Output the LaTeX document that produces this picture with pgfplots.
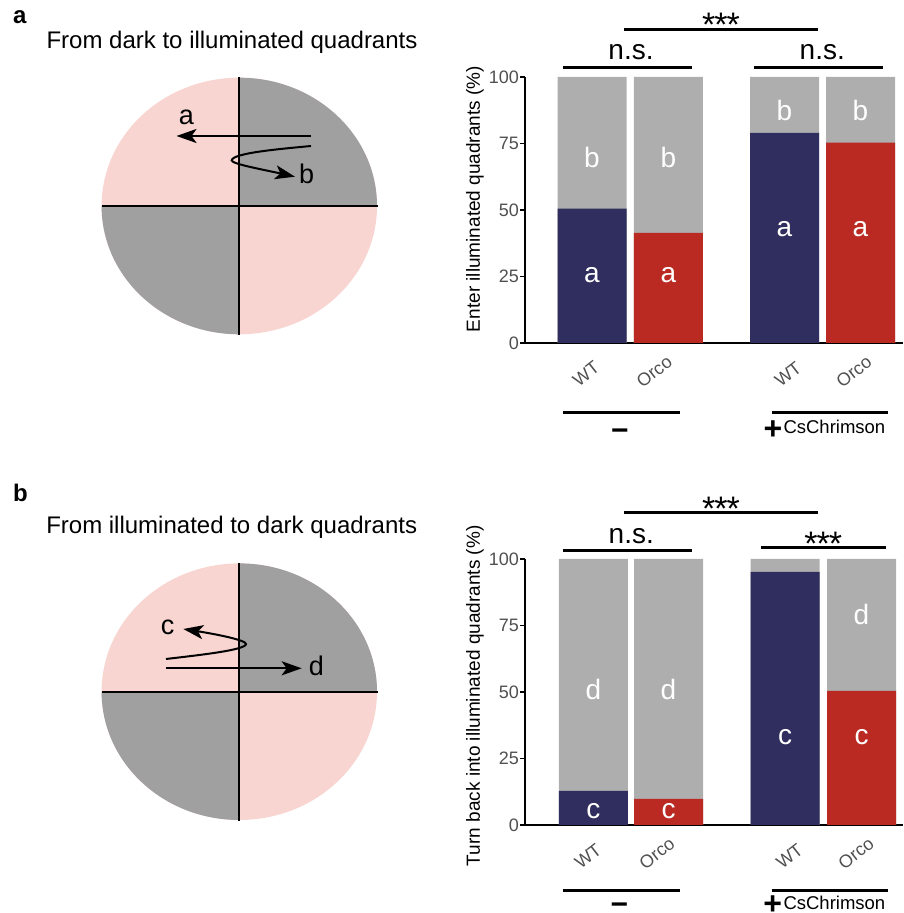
\documentclass[border=0pt]{standalone}
\usepackage{fontspec}
\setmainfont{Liberation Sans}
\usepackage{pgfplots}
\pgfplotsset{compat=1.18}
\usetikzlibrary{arrows.meta}
\definecolor{navy}{HTML}{2F2E5E}
\definecolor{bred}{HTML}{BA2A23}
\definecolor{bgray}{HTML}{AEAEAE}
\definecolor{dgray}{HTML}{A0A0A0}
\definecolor{qpink}{HTML}{F8D5D0}
\definecolor{tgray}{HTML}{505050}
\newcommand{\fs}[1]{\fontsize{#1}{#1}\selectfont}
\newcommand{\stars}{*\kern-1pt*\kern-1pt*}
\pgfplotsset{barax/.style={
  scale only axis, width=378pt, height=266pt,
  xmin=525, xmax=903, ymin=0, ymax=100,
  axis lines=left, axis line style={-, line width=2.4pt, black},
  xtick=\empty, ytick={0,25,50,75,100},
  ytick style={line width=1.5pt, black}, tick align=outside, major tick length=5pt,
  tick label style={font=\fs{18}},
  yticklabel style={font=\fs{18}, text=tgray, inner sep=1pt, /pgf/number format/assume math mode=true},
  ybar, bar width=69pt,
  clip=false,
}}
\tikzset{barlet/.style={font=\fs{28}, text=white},
  arr/.style={-{Stealth[length=20pt, width=14pt, inset=5pt]}}}
\begin{document}
\begin{tikzpicture}
\path[use as bounding box] (0,0) rectangle (903pt,913pt);
% ---------- top bar chart
\begin{axis}[barax, at={(525pt,570pt)}, anchor=south west]
\addplot[fill=bgray, draw=none, bar shift=0pt] coordinates {(592,100) (668.3,100) (784.5,100) (860.5,100)};
\addplot[fill=navy, draw=none, bar shift=0pt] coordinates {(592,50.5) (784.5,79)};
\addplot[fill=bred, draw=none, bar shift=0pt] coordinates {(668.3,41.4) (860.5,75.3)};
\node[barlet] at (axis cs:592,69.7) {b};
\node[barlet] at (axis cs:592,25.6) {a};
\node[barlet] at (axis cs:668.3,69.7) {b};
\node[barlet] at (axis cs:668.3,25.6) {a};
\node[barlet] at (axis cs:784.5,87.3) {b};
\node[barlet] at (axis cs:784.5,43) {a};
\node[barlet] at (axis cs:860.5,87.3) {b};
\node[barlet] at (axis cs:860.5,43) {a};
\end{axis}
% ---------- bottom bar chart
\begin{axis}[barax, at={(525pt,88pt)}, anchor=south west]
\addplot[fill=bgray, draw=none, bar shift=0pt] coordinates {(593.4,100) (668.5,100) (785,100) (861.5,100)};
\addplot[fill=navy, draw=none, bar shift=0pt] coordinates {(593.4,12.8) (785,95.2)};
\addplot[fill=bred, draw=none, bar shift=0pt] coordinates {(668.5,9.8) (861.5,50.4)};
\node[barlet] at (axis cs:593.4,50.8) {d};
\node[barlet] at (axis cs:593.4,5.3) {c};
\node[barlet] at (axis cs:668.5,50.8) {d};
\node[barlet] at (axis cs:668.5,5.3) {c};
\node[barlet] at (axis cs:785,32.9) {c};
\node[barlet] at (axis cs:861.5,79) {d};
\node[barlet] at (axis cs:861.5,32.9) {c};
\end{axis}
% ---------- annotations in image pixel coordinates
\begin{scope}[x=1pt, y=-1pt, yshift=913pt]
% y labels
\node[rotate=90, font=\fs{19}, inner sep=0] at (475,199) {Enter illuminated quadrants (\%)};
\node[rotate=90, font=\fs{19}, inner sep=0] at (475,695.8) {Turn back into illuminated quadrants (\%)};
% category labels
\foreach \x/\y/\t in {586/373.8/WT, 654.2/371.7/Orco, 788/374.2/WT, 853.8/371.7/Orco,
                      588/856/WT, 656.8/853.3/Orco, 789.5/856.5/WT, 856/853.3/Orco}
  \node[rotate=38, font=\fs{18}, text=tgray, inner sep=0] at (\x,\y) {\t};
% significance, top chart
\draw[line width=3pt] (624,29.3) -- (817.7,29.3);
\node[font=\fs{34}, anchor=north, inner sep=0] at (721,12.5) {\stars};
\draw[line width=3pt] (563,67.3) -- (691.7,67.3);
\draw[line width=3pt] (754,67.3) -- (882.7,67.3);
\node[font=\fs{28}, anchor=base, inner sep=0] at (631,59.3) {n.s.};
\node[font=\fs{28}, anchor=base, inner sep=0] at (822.3,59.3) {n.s.};
\draw[line width=3pt] (563,413) -- (680,413);
\draw[line width=3pt] (771.7,413) -- (888,413);
\node[font=\fs{30}\bfseries, anchor=north, inner sep=0] at (619.8,429) {−};
\node[font=\fs{32}\bfseries, anchor=north, inner sep=0] at (773,420.5) {+};
\node[font=\fs{18.5}, anchor=base west, inner sep=0] at (783.3,433.3) {CsChrimson};
% significance, bottom chart
\draw[line width=3pt] (624,512.3) -- (817.7,512.3);
\node[font=\fs{34}, anchor=north, inner sep=0] at (721,496.5) {\stars};
\draw[line width=3pt] (563,551) -- (692,551);
\node[font=\fs{28}, anchor=base, inner sep=0] at (631.3,543.3) {n.s.};
\draw[line width=3pt] (761,547.3) -- (886,547.3);
\node[font=\fs{34}, anchor=north, inner sep=0] at (823.3,531.5) {\stars};
\draw[line width=3pt] (563,890.7) -- (680,890.7);
\draw[line width=3pt] (771.7,890.7) -- (888,890.7);
\node[font=\fs{30}\bfseries, anchor=north, inner sep=0] at (619.5,903) {−};
\node[font=\fs{32}\bfseries, anchor=north, inner sep=0] at (772.7,896) {+};
\node[font=\fs{18.5}, anchor=base west, inner sep=0] at (783.3,909.5) {CsChrimson};
% ---------- panel a diagram
\node[font=\fs{24}\bfseries, anchor=base west, inner sep=0] at (13,24) {a};
\node[font=\fs{24}, anchor=base, inner sep=0] at (232,48.3) {From dark to illuminated quadrants};
\begin{scope}
\clip (239.3,206) ellipse [x radius=137.7, y radius=128.3];
\fill[qpink] (100,75) rectangle (380,338);
\fill[dgray] (239.3,75) rectangle (380,206);
\fill[dgray] (100,206) rectangle (239.3,338);
\end{scope}
\draw[line width=2.2pt] (239.3,77) -- (239.3,335);
\draw[line width=2.2pt] (102,206) -- (378,206);
\draw[line width=2.4pt, arr] (311,136) -- (176.5,136);
\draw[line width=2pt, arr]
  (311,146) .. controls (280,149) and (232,153) .. (231.7,160.5)
  .. controls (232,164) and (265,170) .. (295,176.7);
\node[font=\fs{27}, anchor=base, inner sep=0] at (186.3,125) {a};
\node[font=\fs{27}, anchor=base, inner sep=0] at (306.7,183.3) {b};
% ---------- panel b diagram
\node[font=\fs{24}\bfseries, anchor=base west, inner sep=0] at (13,501.7) {b};
\node[font=\fs{24}, anchor=base, inner sep=0] at (231.7,533.3) {From illuminated to dark quadrants};
\begin{scope}
\clip (239.3,691.7) ellipse [x radius=137.7, y radius=128.3];
\fill[qpink] (100,560) rectangle (380,823);
\fill[dgray] (239.3,560) rectangle (380,691.7);
\fill[dgray] (100,691.7) rectangle (239.3,823);
\end{scope}
\draw[line width=2.2pt] (239.3,563) -- (239.3,821);
\draw[line width=2.2pt] (102,691.7) -- (378,691.7);
\draw[line width=2.4pt, arr] (166,668.3) -- (301.7,668.3);
\draw[line width=2pt, arr]
  (166,659) .. controls (200,655) and (246,650) .. (246,644)
  .. controls (246,640) and (215,634) .. (183.3,629);
\node[font=\fs{27}, anchor=base, inner sep=0] at (167.5,635) {c};
\node[font=\fs{27}, anchor=base, inner sep=0] at (316.3,676) {d};
\end{scope}
\end{tikzpicture}
\end{document}
